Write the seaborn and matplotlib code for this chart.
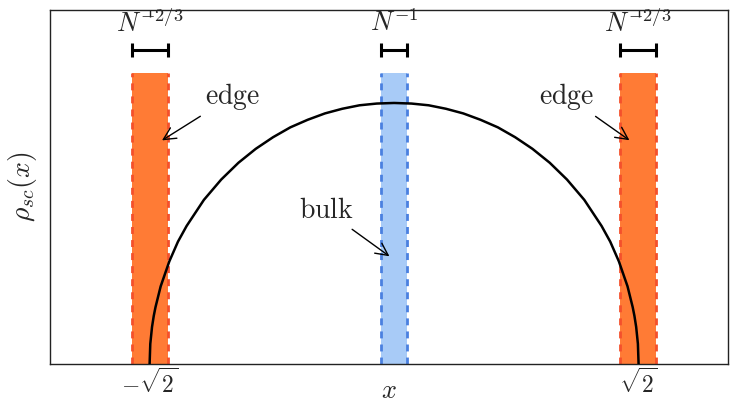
import numpy as np
import pandas as pd
import matplotlib
matplotlib.use("Agg")
import matplotlib.pyplot as plt
import seaborn as sns

# semicircle curve, values (right half, mirrored below)
half_x = [0.0, 0.1, 0.2, 0.3, 0.4, 0.5, 0.6, 0.7, 0.8, 0.9, 1.0, 1.1, 1.2,
          1.25, 1.3, 1.35, 1.38, 1.39, 1.40, 1.41, 1.414]
half_y = [0.450, 0.449, 0.446, 0.440, 0.432, 0.421, 0.408, 0.391, 0.371,
          0.347, 0.318, 0.283, 0.238, 0.211, 0.177, 0.134, 0.098, 0.083,
          0.064, 0.035, 0.0]

curve_x = [-v for v in half_x[::-1]] + half_x[1:]
curve_y = half_y[::-1] + half_y[1:]
curve = pd.DataFrame({"x": curve_x, "rho": curve_y})

# the three windows
band_centers = [-1.41, 0.0, 1.41]
band_halfw = [0.104, 0.075, 0.104]
band_top = 0.502
band_labels = [r"$N^{-2/3}$", r"$N^{-1}$", r"$N^{-2/3}$"]
band_kind = ["edge", "bulk", "edge"]

fill_col = {"edge": "#ff7b35", "bulk": "#a8cbf7"}
dash_col = {"edge": "#f4502c", "bulk": "#4a80e0"}

sns.set_style("white")
plt.rcParams["mathtext.fontset"] = "cm"
plt.rcParams["font.family"] = ["DejaVu Serif"]

fig = plt.figure(figsize=(7.3, 4.05), dpi=100)
ax = fig.add_axes([0.0685, 0.101, 0.9285, 0.874])

for c, w, kind, lab in zip(band_centers, band_halfw, band_kind, band_labels):
    ax.fill_between([c - w, c + w], 0, band_top, color=fill_col[kind], lw=0, zorder=1)
    ax.vlines([c - w, c + w], 0, band_top, colors=dash_col[kind], lw=2,
              linestyles=(0, (2.5, 2.2)), zorder=2)
    ax.errorbar([c], [0.541], xerr=[w], color="black", elinewidth=2.2,
                capsize=5, capthick=2.2, fmt="none", zorder=3)
    ax.text(c, 0.588, lab, ha="center", va="center", fontsize=19)

sns.lineplot(data=curve, x="x", y="rho", color="black", lw=1.8, ax=ax, zorder=4, sort=False)

arrow = dict(arrowstyle="->", color="black", lw=1, mutation_scale=22)
ax.annotate(r"$\mathrm{edge}$", xy=(-1.356, 0.383), xytext=(-0.934, 0.462),
            ha="center", va="center", fontsize=20, arrowprops=arrow)
ax.annotate(r"$\mathrm{edge}$", xy=(1.374, 0.383), xytext=(0.998, 0.462),
            ha="center", va="center", fontsize=20, arrowprops=arrow)
ax.annotate(r"$\mathrm{bulk}$", xy=(-0.014, 0.183), xytext=(-0.39, 0.264),
            ha="center", va="center", fontsize=20, arrowprops=arrow)

ax.set_xlim(-1.99, 1.93)
ax.set_ylim(0, 0.61)
ax.set_xticks([-np.sqrt(2), np.sqrt(2)])
ax.set_xticklabels([r"$-\sqrt{2}$", r"$\sqrt{2}$"], fontsize=17)
ax.set_yticks([])
ax.tick_params(axis="x", direction="in", top=True, bottom=True, length=5,
               width=1, color="#222222", pad=3)
ax.set_xlabel(r"$x$", fontsize=19)
ax.xaxis.set_label_coords(0.5, -0.074)
ax.xaxis.label.set_va("center")
ax.set_ylabel(r"$\rho_{sc}(x)$", fontsize=20, labelpad=8)
for s in ax.spines.values():
    s.set_color("#222222")
    s.set_linewidth(1.0)

fig.savefig("out.png", dpi=100)
